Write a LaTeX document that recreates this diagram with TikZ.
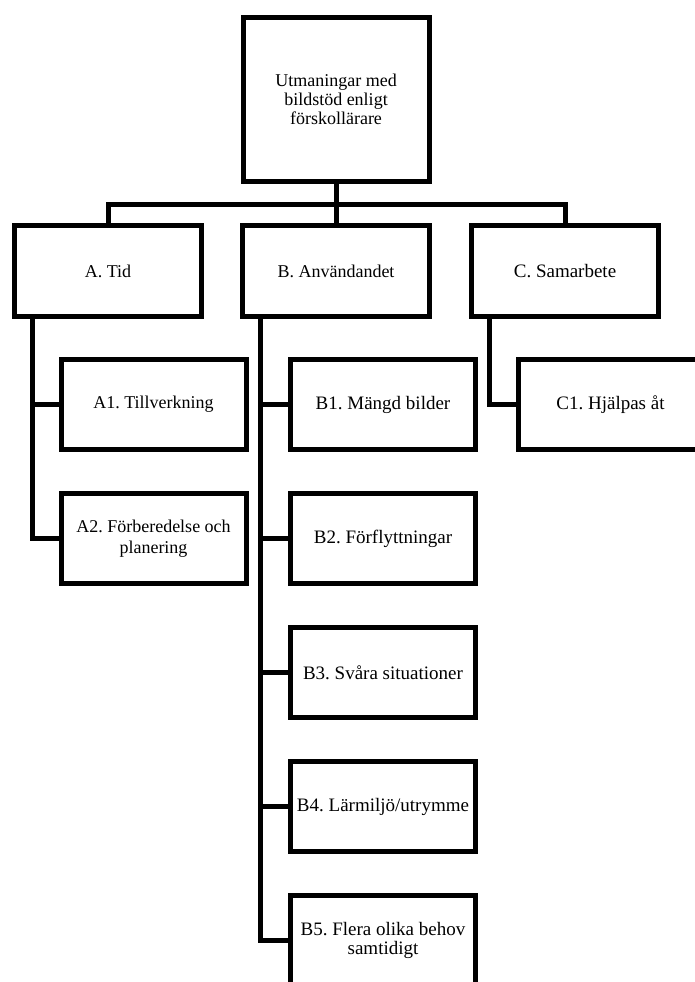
\documentclass[tikz,border=0pt]{standalone}
\usepackage{fontspec}
\setmainfont{Liberation Serif}
\usepackage{tikz}
\usetikzlibrary{positioning}
\frenchspacing

\begin{document}
\begin{tikzpicture}[x=1pt, y=-1pt, line width=5pt,
		box/.style={rectangle, draw=black, align=center, inner sep=2pt},
		rootbox/.style={box, minimum width=186pt, minimum height=164pt, font=\fontsize{18}{19}\selectfont},
		catbox/.style={box, minimum width=187pt, minimum height=91pt, font=\fontsize{18}{21}\selectfont},
		subbox/.style={box, minimum width=185pt, minimum height=90pt, font=\fontsize{18}{21}\selectfont},
		bigtext/.style={font=\fontsize{19}{19}\selectfont}]
			\useasboundingbox (0,0) rectangle (695,982);
			\clip (0,0) rectangle (695,982);
			
			\node[rootbox] (root) at (336,99.5) {Utmaningar med\\bildstöd enligt\\förskollärare};
			\node[catbox] (A) at (108,271) {A. Tid};
			\node[catbox] (B) at (336,271) {B. Användandet};
			\node[catbox, bigtext] (C) at (565,271) {C. Samarbete};
			
			\node[subbox] (A1) at (153.5,404.5) {A1. Tillverkning};
			\node[subbox] (A2) at (153.5,538.5) {A2. Förberedelse och\\planering};
			\foreach \lab [count=\c, evaluate=\c as \yy using {270.5+134*\c}] in {{B1. Mängd bilder}, {B2. Förflyttningar}, {B3. Svåra situationer}, {B4. Lärmiljö/utrymme}, {B5. Flera olika behov\\samtidigt}}
			{
				\node[subbox, bigtext] (B\c) at (383,\yy) {\lab};
			}
			\node[subbox, bigtext] (C1) at (610.5,404.5) {C1. Hjälpas åt};
			
			\draw (root.south) -- ++(0,20) -| (A.north);
			\draw (root.south) -- ++(0,20) -| (C.north);
			\draw (root.south) -- (B.north);
			
			\foreach \s in {1,2}
				\draw ([xshift=20pt]A.south west) |- (A\s.west);
			\foreach \s in {1,...,5}
				\draw ([xshift=20pt]B.south west) |- (B\s.west);
			\draw ([xshift=20pt]C.south west) |- (C1.west);
		\end{tikzpicture}
\end{document}
